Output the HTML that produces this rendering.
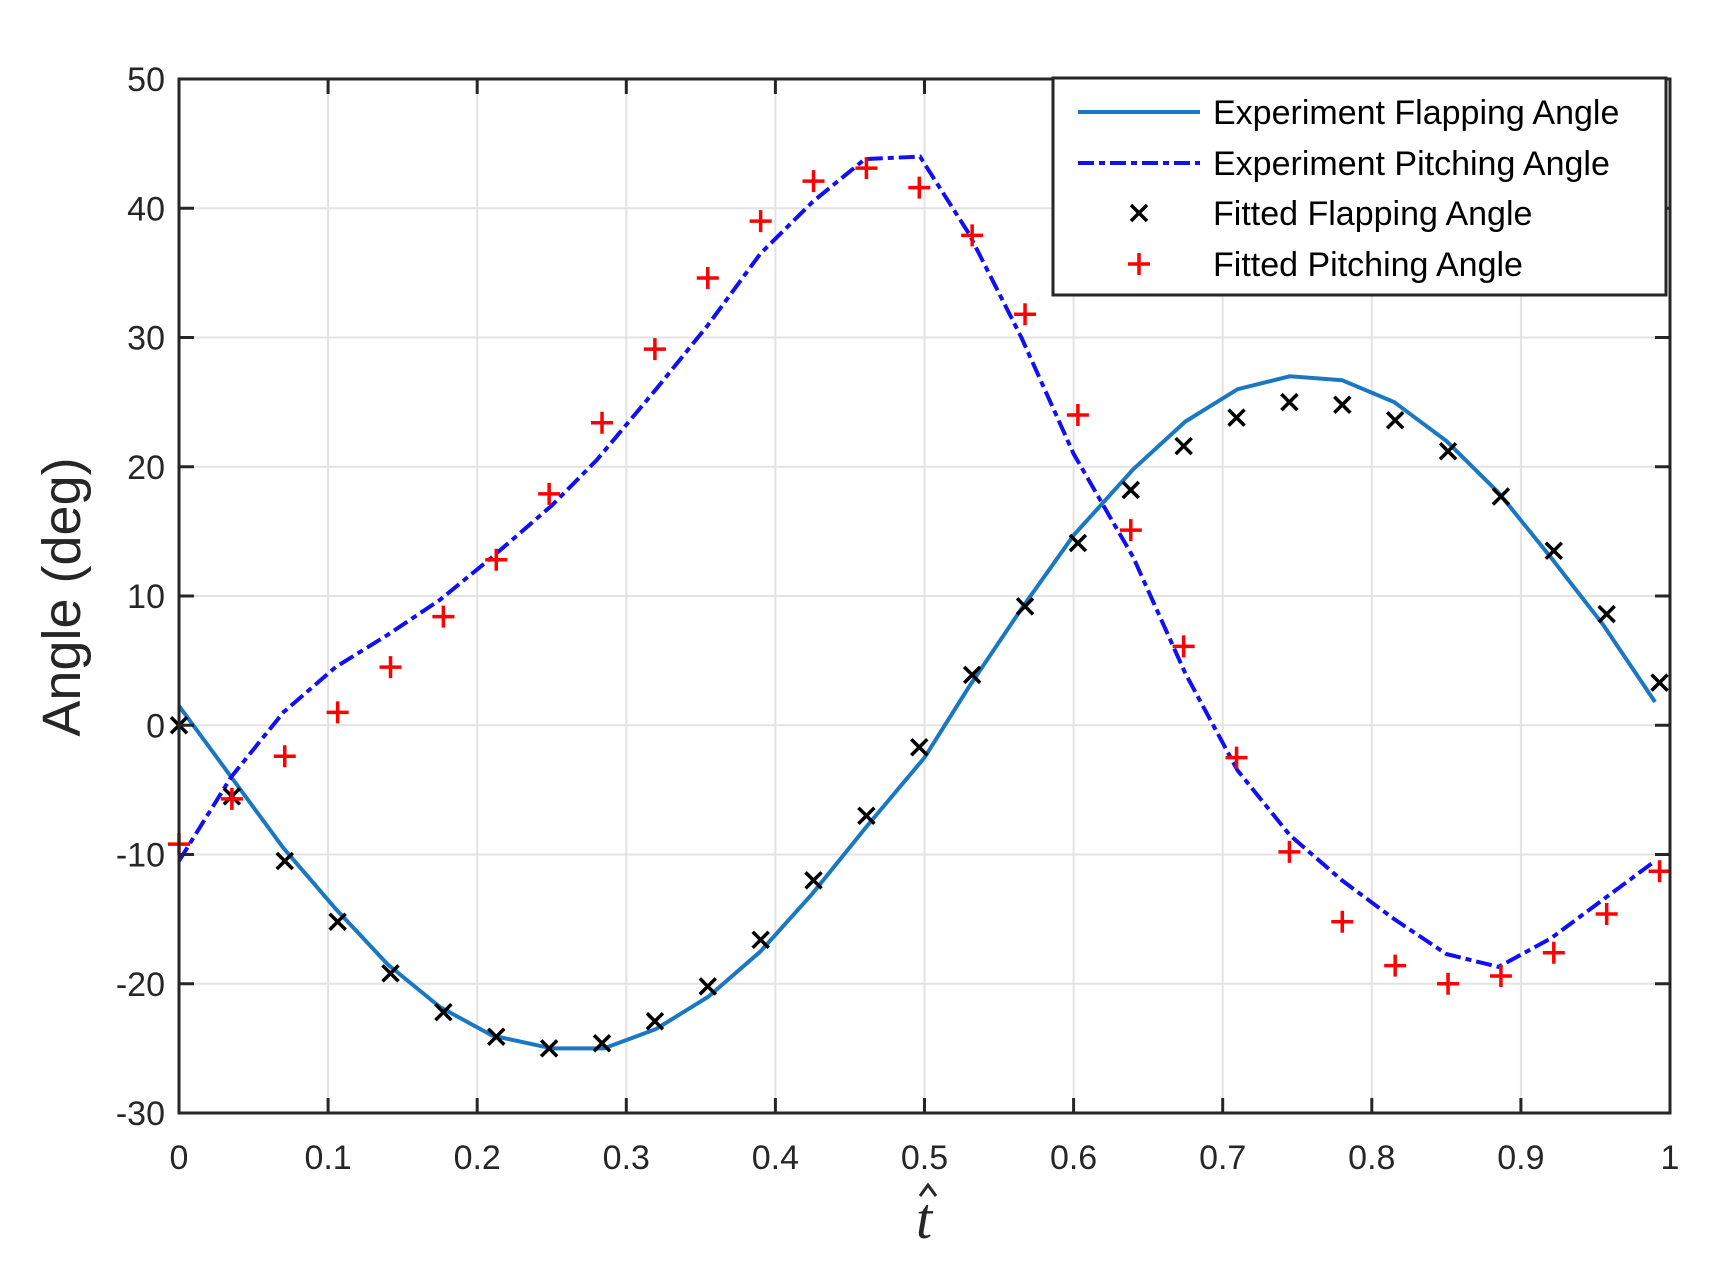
<!DOCTYPE html>
<html><head><meta charset="utf-8"><style>html,body{margin:0;padding:0;background:#fff}svg{display:block}</style></head>
<body>
<svg id="s" width="1735" height="1279" xmlns="http://www.w3.org/2000/svg" font-family="Liberation Sans, sans-serif"></svg>
<script>
const s=document.getElementById('s');
const L=179,R=1670,T=79,B=1113;
const X=t=>L+(R-L)*t, Y=v=>T+(50-v)*(B-T)/80;
let h='';
for(let i=1;i<10;i++){const x=X(i/10);h+=`<line x1="${x}" y1="${T}" x2="${x}" y2="${B}" stroke="#e3e3e3" stroke-width="2"/>`;}
for(let v=-20;v<=40;v+=10){const y=Y(v);h+=`<line x1="${L}" y1="${y}" x2="${R}" y2="${y}" stroke="#e3e3e3" stroke-width="2"/>`;}
const fl=[[0,1.5],[0.035,-4],[0.07,-9.5],[0.105,-14.2],[0.14,-18.5],[0.175,-21.8],[0.21,-24],[0.25,-25],[0.285,-25],[0.32,-23.5],[0.355,-21],[0.39,-17.5],[0.425,-13],[0.46,-8],[0.5,-2.5],[0.53,3],[0.565,9],[0.6,14.7],[0.64,19.8],[0.675,23.5],[0.71,26],[0.745,27],[0.78,26.7],[0.815,25],[0.85,22],[0.885,18],[0.92,13],[0.955,7.8],[0.99,1.8]];
const pt=[[0,-10.5],[0.035,-4],[0.07,1],[0.105,4.5],[0.14,7],[0.175,9.7],[0.21,13],[0.25,17],[0.28,20.5],[0.32,26],[0.355,31],[0.39,36.5],[0.425,40.5],[0.46,43.8],[0.497,44],[0.53,38],[0.565,30],[0.6,21],[0.64,13],[0.675,4],[0.71,-3.5],[0.745,-8.5],[0.78,-12],[0.815,-15],[0.85,-17.7],[0.885,-18.7],[0.92,-16.5],[0.955,-13.5],[0.99,-10.5]];
const pts=a=>a.map(p=>X(p[0]).toFixed(1)+','+Y(p[1]).toFixed(1)).join(' ');
h+=`<polyline points="${pts(fl)}" fill="none" stroke="#1a78c2" stroke-width="4"/>`;
h+=`<polyline points="${pts(pt)}" fill="none" stroke="#1010f0" stroke-width="4" stroke-dasharray="16,5,6,5"/>`;
const fx=[0,-5.5,-10.5,-15.2,-19.2,-22.2,-24.1,-25,-24.6,-22.9,-20.2,-16.6,-12,-7,-1.7,3.9,9.2,14.1,18.2,21.6,23.8,25,24.8,23.6,21.2,17.7,13.5,8.6,3.3];
const fp=[-9.2,-5.7,-2.4,1,4.5,8.4,12.8,17.9,23.4,29.1,34.6,39,42.1,43.1,41.6,37.9,31.8,24,15.1,6.1,-2.5,-9.8,-15.2,-18.6,-20,-19.4,-17.6,-14.6,-11.3];
const xm=(x,y)=>`<path d="M${x-8},${y-8}L${x+8},${y+8}M${x-8},${y+8}L${x+8},${y-8}" stroke="#000" stroke-width="3.5"/>`;
const pm=(x,y)=>`<path d="M${x-11},${y}L${x+11},${y}M${x},${y-11}L${x},${y+11}" stroke="#ff0000" stroke-width="3.5"/>`;
for(let i=0;i<29;i++){const t=i*0.993/28;h+=xm(X(t),Y(fx[i]));h+=pm(X(t),Y(fp[i]));}
h+=`<rect x="${L}" y="${T}" width="${R-L}" height="${B-T}" fill="none" stroke="#262626" stroke-width="3"/>`;
for(let i=0;i<=10;i++){const x=X(i/10);h+=`<line x1="${x}" y1="${B}" x2="${x}" y2="${B-15}" stroke="#262626" stroke-width="3"/><line x1="${x}" y1="${T}" x2="${x}" y2="${T+15}" stroke="#262626" stroke-width="3"/>`;
h+=`<text x="${x}" y="${B+56}" font-size="34" fill="#262626" text-anchor="middle">${i==0?'0':i==10?'1':'0.'+i}</text>`;}
for(let v=-30;v<=50;v+=10){const y=Y(v);h+=`<line x1="${L}" y1="${y}" x2="${L+15}" y2="${y}" stroke="#262626" stroke-width="3"/><line x1="${R}" y1="${y}" x2="${R-15}" y2="${y}" stroke="#262626" stroke-width="3"/>`;
h+=`<text x="${L-14}" y="${y+12}" font-size="34" fill="#262626" text-anchor="end">${v}</text>`;}
h+=`<text transform="translate(80,597) rotate(-90)" font-size="54" fill="#262626" text-anchor="middle">Angle (deg)</text>`;
h+=`<text x="924" y="1238" font-size="58" font-style="italic" font-family="Liberation Serif, serif" fill="#262626" text-anchor="middle">t</text>`;
h+=`<path d="M920,1196 L928,1185 L936,1196" fill="none" stroke="#262626" stroke-width="3"/>`;
h+=`<rect x="1053" y="78" width="613" height="217" fill="#fff" stroke="#262626" stroke-width="3"/>`;
const ly=[112,163,213,264],lab=['Experiment Flapping Angle','Experiment Pitching Angle','Fitted Flapping Angle','Fitted Pitching Angle'];
h+=`<line x1="1078" y1="112" x2="1200" y2="112" stroke="#1a78c2" stroke-width="4"/>`;
h+=`<line x1="1078" y1="163" x2="1200" y2="163" stroke="#1010f0" stroke-width="4" stroke-dasharray="16,5,6,5"/>`;
h+=xm(1139,213)+pm(1139,264);
for(let i=0;i<4;i++)h+=`<text x="1213" y="${ly[i]+12}" font-size="34" fill="#000">${lab[i]}</text>`;
s.innerHTML=h;
</script>
</body></html>
